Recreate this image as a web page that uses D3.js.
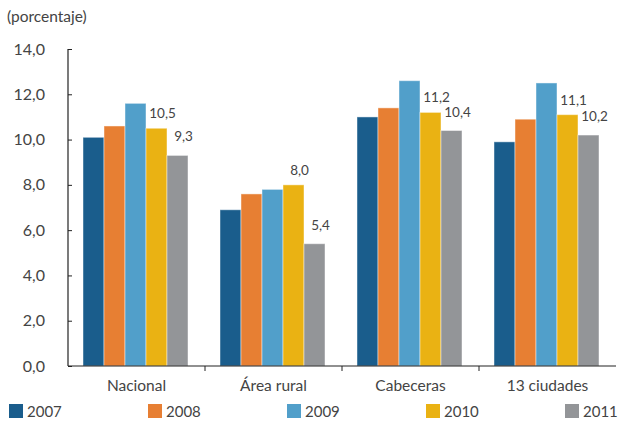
<!DOCTYPE html>
<html lang="es">
<head>
    <meta charset="UTF-8">
    <title>Porcentaje por área</title>
    <script src="https://d3js.org/d3.v7.min.js"></script>
    <style>
        body { margin: 0; background: white; }
        text { font-family: Lato, "Open Sans", sans-serif; fill: #444; }
    </style>
</head>
<body>
    <div id="chart"></div>
    <script>
        const width = 618;
        const height = 421;

        // data
        const categories = ["Nacional", "Área rural", "Cabeceras", "13 ciudades"];
        const years = ["2007", "2008", "2009", "2010", "2011"];
        const values2007 = [10.1, 6.9, 11.0, 9.9];
        const values2008 = [10.6, 7.6, 11.4, 10.9];
        const values2009 = [11.6, 7.8, 12.6, 12.5];
        const values2010 = [10.5, 8.0, 11.2, 11.1];
        const values2011 = [9.3, 5.4, 10.4, 10.2];
        const yTicks = [0, 2, 4, 6, 8, 10, 12, 14];
        const labelledYears = ["2010", "2011"];

        const colors = ["#1a5d8c", "#e77f33", "#519fca", "#eab213", "#939598"];
        const series = [values2007, values2008, values2009, values2010, values2011];

        const fmt = v => d3.format(".1f")(v).replace(".", ",");

        const svg = d3.select("#chart").append("svg")
            .attr("width", width)
            .attr("height", height);

        const y = d3.scaleLinear().domain([0, 14]).range([366, 49]);
        const x0 = d3.scaleBand().domain(categories).range([68, 616]);
        const x1 = d3.scaleBand().domain(years).range([15, 120]);
        const color = d3.scaleOrdinal().domain(years).range(colors);

        // title
        svg.append("text")
            .attr("x", 7).attr("y", 22)
            .style("font-size", "15.5px")
            .text("(porcentaje)");

        // bars
        const groups = svg.selectAll(".group")
            .data(categories)
            .enter().append("g")
            .attr("class", "group")
            .attr("transform", d => `translate(${x0(d)},0)`);

        groups.selectAll("rect")
            .data((c, i) => years.map((yr, j) => ({ year: yr, value: series[j][i] })))
            .enter().append("rect")
            .attr("x", d => x1(d.year))
            .attr("width", x1.bandwidth())
            .attr("y", d => y(d.value))
            .attr("height", d => y(0) - y(d.value))
            .attr("fill", d => color(d.year))
            .attr("stroke", "rgba(255,255,255,0.45)")
            .attr("stroke-width", 1);

        // value labels on 2010 and 2011
        groups.selectAll(".val")
            .data((c, i) => years.map((yr, j) => ({ year: yr, value: series[j][i] }))
                .filter(d => labelledYears.includes(d.year)))
            .enter().append("text")
            .attr("class", "val")
            .attr("x", d => x1(d.year) + x1.bandwidth() / 2 + 6)
            .attr("y", d => y(d.value) - (d.year === "2011" ? 14 : 10))
            .attr("text-anchor", "middle")
            .style("font-size", "13.5px")
            .text(d => fmt(d.value));

        // y axis
        const yAxis = svg.append("g")
            .attr("transform", "translate(68,0)")
            .call(d3.axisRight(y).tickValues(yTicks).tickSize(4).tickFormat(""));
        yAxis.select(".domain").attr("stroke", "#222").attr("stroke-width", 1.2)
            .attr("d", `M0,${y(14)}V${y(0)}`);
        yAxis.selectAll(".tick line").attr("stroke", "#222");

        svg.selectAll(".ylab")
            .data(yTicks)
            .enter().append("text")
            .attr("class", "ylab")
            .attr("x", 45)
            .attr("y", d => y(d) + 5.5)
            .attr("text-anchor", "end")
            .style("font-size", "16px")
            .text(d => fmt(d));

        // x axis
        const xAxis = svg.append("g")
            .attr("transform", `translate(0,${y(0)})`)
            .call(d3.axisBottom(x0).tickSize(0).tickFormat(""));
        xAxis.select(".domain").attr("stroke", "#222").attr("stroke-width", 1.2)
            .attr("d", "M68,0H616");
        xAxis.selectAll(".sep")
            .data(categories.slice(1))
            .enter().append("line")
            .attr("class", "sep")
            .attr("x1", d => x0(d)).attr("x2", d => x0(d))
            .attr("y1", 0).attr("y2", 5)
            .attr("stroke", "#222");

        svg.selectAll(".xlab")
            .data(categories)
            .enter().append("text")
            .attr("class", "xlab")
            .attr("x", d => x0(d) + x0.bandwidth() / 2)
            .attr("y", 391)
            .attr("text-anchor", "middle")
            .style("font-size", "15.5px")
            .text(d => d);

        // legend
        const legend = svg.selectAll(".legend")
            .data(years)
            .enter().append("g")
            .attr("class", "legend")
            .attr("transform", (d, i) => `translate(${9 + i * 139},404)`);
        legend.append("rect")
            .attr("width", 14).attr("height", 14)
            .attr("fill", d => color(d));
        legend.append("text")
            .attr("x", 18).attr("y", 13)
            .style("font-size", "15px")
            .text(d => d);
    </script>
</body>
</html>
